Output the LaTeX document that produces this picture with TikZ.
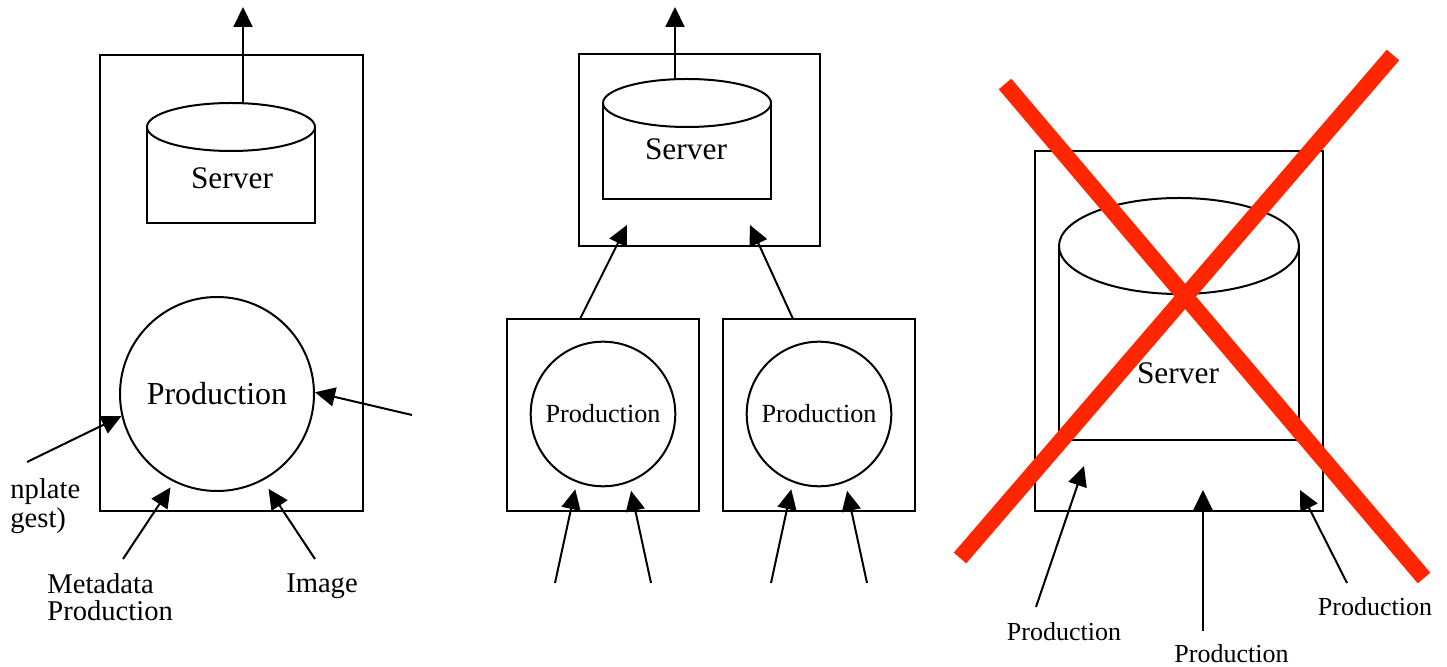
\documentclass[tikz,border=0pt]{standalone}
\usepackage{fontspec}
\setmainfont{Liberation Serif}
\usepackage{tikz}
\usetikzlibrary{arrows.meta}
\definecolor{Cross}{RGB}{255,38,0}
\newcommand{\Fs}[2][]{\fontsize{#2}{#2}\selectfont}
\newcommand{\Drum}[6]{% name cx ymid ybot rx ry
\draw[line width=1pt] (#2-#5,#3) -- (#2-#5,#4) -- (#2+#5,#4) -- (#2+#5,#3);
\draw[line width=1pt] (#2,#3) ellipse [x radius=#5,y radius=#6];
\coordinate (#1) at (#2,#3);
}
\tikzset{
  boxframe/.style={draw,line width=1pt,inner sep=0pt},
  flow/.style={line width=1pt,-{Triangle[length=10pt,width=9.5pt]}},
  ring/.style={circle,draw,line width=1pt,inner sep=0pt},
  redcross/.style={Cross,line width=8.2pt},
}

\begin{document}
\begin{tikzpicture}[x=0.5pt,y=-0.5pt]
\useasboundingbox (0,0) rectangle (1447,667);
% left: store and production in one box
\node[boxframe,minimum width=131.5pt,minimum height=228pt] (boxA) at (231.5,283) {};
\Drum{drumA}{231}{127}{223}{84}{24}
\node[font=\Fs{15.7}] (srvA) at (232,178) {Server};
\coordinate (topA) at (243,103.3);
\coordinate (outA) at (243,7);
\draw[flow] (topA) -- (outA);
\node[ring,minimum size=97pt,font=\Fs{16}] (prodA) at (217,394) {Production};
% inputs
\node[font=\Fs{14.3},align=left,anchor=north west,inner sep=0pt] (tmplA) at (10,478.5) {nplate\\gest)};
\node[font=\fontsize{14.3}{13.3}\selectfont,align=left,anchor=north west,inner sep=0pt] (metaA) at (47,573.5) {Metadata\\Production};
\node[font=\Fs{14.3},anchor=base] (imgA) at (322,593) {Image};
\coordinate (tmplTail) at (27,462);
\coordinate (metaTail) at (123,559);
\coordinate (imgTail) at (315,559);
\coordinate (sideTail) at (412,415);
\draw[flow] (tmplTail) -- (prodA.193);
\draw[flow,shorten >=3.2pt] (metaTail) -- (prodA.244);
\draw[flow,shorten >=5pt] (imgTail) -- (prodA.298);
\draw[flow] (sideTail) -- (prodA.1);

% middle: store fed by two production boxes
\node[boxframe,minimum width=120.5pt,minimum height=96pt] (boxB) at (699.5,150) {};
\Drum{drumB}{687}{103}{199}{84}{24}
\node[font=\Fs{15.7}] (srvB) at (686,149) {Server};
\coordinate (topB) at (675,79.3);
\coordinate (outB) at (675,7);
\draw[flow] (topB) -- (outB);
\foreach \p/\c in {L/603,R/819}{
  \node[boxframe,minimum size=96pt] (pbox\p) at (\c,415) {};
  \node[ring,minimum size=72.3pt,font=\Fs{13.1}] (prod\p) at (\c,414) {Production};
  \coordinate (in\p1) at (\c-48,583);
  \coordinate (in\p2) at (\c+48,583);
  \draw[flow,shorten >=3.5pt] (in\p1) -- (prod\p.249);
  \draw[flow,shorten >=4.3pt] (in\p2) -- (prod\p.291);
}
\coordinate (upTailL) at (580,319);
\coordinate (upTipL) at (627,225);
\coordinate (upTailR) at (793,319);
\coordinate (upTipR) at (750,225);
\draw[flow] (upTailL) -- (upTipL);
\draw[flow] (upTailR) -- (upTipR);

% right: one big store, crossed out
\node[boxframe,minimum width=144pt,minimum height=180pt] (boxC) at (1179,331) {};
\Drum{drumC}{1179}{246}{440}{120}{48}
\node[font=\Fs{15.7}] (srvC) at (1178,373) {Server};
\node[font=\Fs{13},anchor=base] (pc1) at (1064,641) {Production};
\node[font=\Fs{13},anchor=base] (pc2) at (1231.5,663) {Production};
\node[font=\Fs{13},anchor=base] (pc3) at (1375,616) {Production};
\foreach \n/\tx/\ty/\hx/\hy in {1/1036/607/1084/466,2/1203/631/1203/490,3/1347/583/1300/490}{
  \coordinate (cin\n) at (\tx,\ty);
  \coordinate (chd\n) at (\hx,\hy);
  \draw[flow] (cin\n) -- (chd\n);
}
\draw[redcross] (1005,84) -- (1424,578);
\draw[redcross] (960,558) -- (1393,55);
\end{tikzpicture}
\end{document}
